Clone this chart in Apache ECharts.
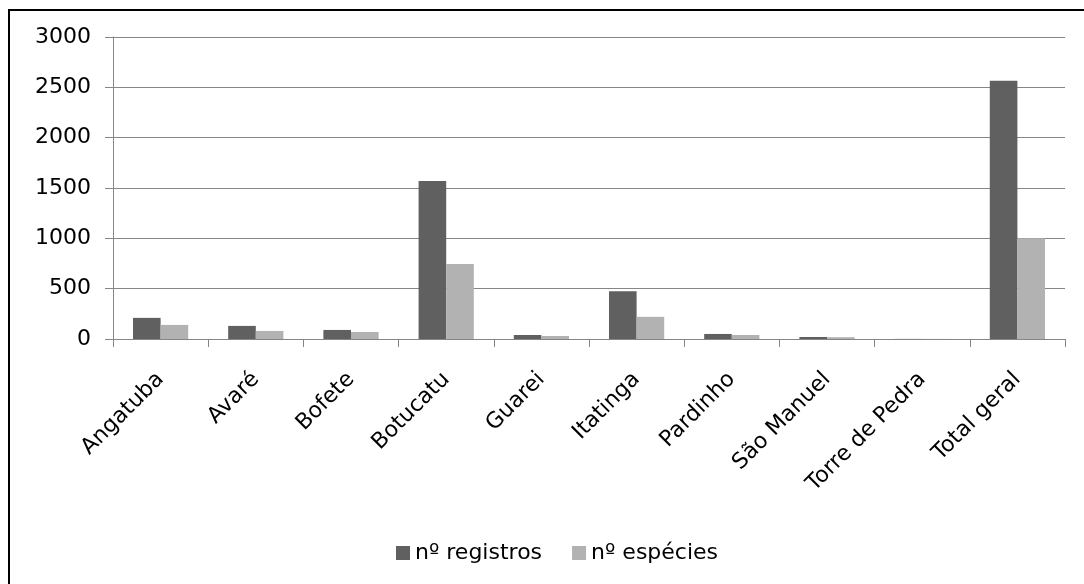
<!DOCTYPE html>
<html>
<head>
<meta charset="utf-8">
<script src="https://cdn.jsdelivr.net/npm/echarts@6/dist/echarts.min.js"></script>
<style>
  html, body {
    margin: 0;
    padding: 0;
    background: #fff;
  }
  #main {
    width: 1084px;
    height: 584px;
  }
  .frame {
    position: absolute;
    left: 8px;
    top: 9px;
    right: 0;
    bottom: 0;
    border-top: 2px solid #000;
    border-left: 2px solid #000;
    pointer-events: none;
  }
</style>
</head>
<body>
<div id="main"></div>
<div class="frame"></div>
<script>
var municipios = ["Angatuba", "Avaré", "Bofete", "Botucatu", "Guarei", "Itatinga", "Pardinho", "São Manuel", "Torre de Pedra", "Total geral"]
var registros = [210, 130, 90, 1570, 40, 475, 50, 20, 1, 2565]
var especies = [140, 80, 70, 745, 30, 220, 40, 18, 1, 1000]
var yTicks = [0, 500, 1000, 1500, 2000, 2500, 3000]

var chartDom = document.getElementById("main")
var myChart = echarts.init(chartDom)
var option

var font = "DejaVu Sans"

option = {
  backgroundColor: "#fff",
  animation: false,
  textStyle: { fontFamily: font },
  grid: {
    left: 113,
    right: 19,
    top: 37,
    bottom: 245,
    outerBoundsMode: "none"
  },
  legend: {
    left: 391,
    top: 537,
    icon: "rect",
    itemWidth: 14,
    itemHeight: 14,
    itemGap: 30,
    textStyle: { fontSize: 22, color: "#000", fontFamily: font },
    data: ["nº registros", "nº espécies"]
  },
  xAxis: {
    type: "category",
    data: municipios,
    axisLine: { lineStyle: { color: "#868686", width: 1 } },
    axisTick: { show: true, length: 8, interval: 0, lineStyle: { color: "#868686" } },
    axisLabel: {
      interval: 0,
      rotate: 45,
      margin: 37,
      fontSize: 22,
      color: "#000",
      fontFamily: font
    }
  },
  yAxis: {
    type: "value",
    min: yTicks[0],
    max: yTicks[yTicks.length - 1],
    interval: 500,
    axisLine: { show: true, lineStyle: { color: "#868686", width: 1 } },
    axisTick: { show: true, length: 8, lineStyle: { color: "#868686" } },
    splitLine: { lineStyle: { color: "#868686", width: 1 } },
    axisLabel: {
      margin: 22,
      fontSize: 22,
      color: "#000",
      fontFamily: font,
      formatter: function (v) {
        return String(v)
      }
    }
  },
  series: [
    {
      name: "nº registros",
      type: "bar",
      barGap: 0,
      barCategoryGap: "42%",
      itemStyle: { color: "#606060" },
      data: registros
    },
    {
      name: "nº espécies",
      type: "bar",
      barGap: 0,
      barCategoryGap: "42%",
      itemStyle: { color: "#b2b2b2" },
      data: especies
    }
  ]
}

option && myChart.setOption(option)
</script>
</body>
</html>
